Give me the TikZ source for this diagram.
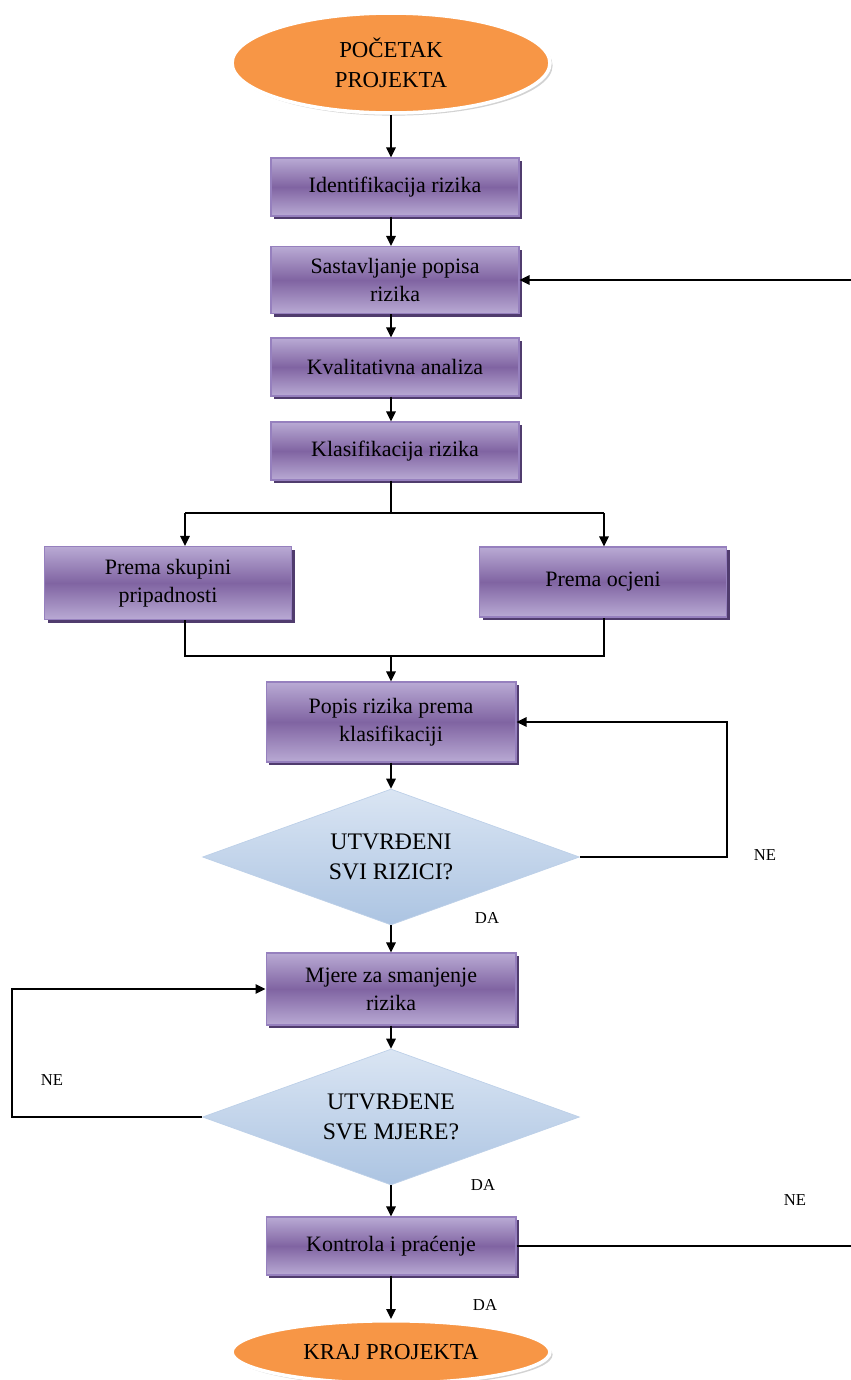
\documentclass[tikz,border=0pt]{standalone}
\usepackage{fontspec}
\setmainfont{Liberation Serif}
\usepackage{tikz}
\usetikzlibrary{positioning,arrows.meta,calc,shapes.geometric,shadows}
\definecolor{oranz}{RGB}{247,150,70}
\definecolor{ljtop}{RGB}{185,170,212}
\definecolor{ljmid}{RGB}{128,100,162}
\definecolor{ljbor}{RGB}{150,128,190}
\definecolor{ljsj}{RGB}{80,60,110}
\definecolor{plav}{RGB}{218,229,243}
\definecolor{plavd}{RGB}{172,196,226}

\begin{document}
\begin{tikzpicture}[x=0.02cm,y=-0.02cm,>={Triangle[length=2mm,width=1.9mm]},
  line width=0.85pt,
  ell/.style={ellipse,fill=oranz,draw=white,line width=2pt,minimum width=6.36cm,
    minimum height=2cm,align=center,font=\fontsize{13}{17}\selectfont,
    drop shadow={shadow xshift=1.5pt,shadow yshift=-1.5pt,fill=black!35}},
  proc/.style={draw=ljbor,line width=0.6pt,top color=ljtop,bottom color=ljtop,middle color=ljmid,
    minimum width=4.96cm,minimum height=1.16cm,align=center,inner sep=2pt,
    font=\fontsize{12.5}{16}\selectfont,
    drop shadow={shadow xshift=1.8pt,shadow yshift=-1.8pt,fill=ljsj,opacity=1}},
  dec/.style={diamond,aspect=2.8,inner sep=0pt,minimum width=7.54cm,minimum height=2.72cm,
    top color=plav,bottom color=plavd,draw=plavd!80!white,line width=0.4pt,align=center,
    font=\fontsize{13.5}{17}\selectfont},
  lbl/.style={font=\fontsize{9.5}{11}\selectfont}]
\useasboundingbox (0,0) rectangle (851,1380);
% top
\node[ell] (start) at (391,63) {POČETAK\\PROJEKTA};
\node[proc] (ident) at (395,187) {Identifikacija rizika};
\node[proc,minimum height=1.34cm] (popis) at (395,280) {Sastavljanje popisa\\rizika};
\node[proc] (kval) at (395,367) {Kvalitativna analiza};
\node[proc] (klas) at (395,451) {Klasifikacija rizika};
\draw[->] (start) -- (start |- ident.north);
\draw[->] (ident.south -| start) -- (start |- popis.north);
\draw[->] (popis.south -| start) -- (start |- kval.north);
\draw[->] (kval.south -| start) -- (start |- klas.north);
% split
\node[proc,minimum width=4.94cm,minimum height=1.46cm] (skup) at (168,583) {Prema skupini\\pripadnosti};
\node[proc,minimum width=4.94cm,minimum height=1.4cm] (ocj) at (603,582) {Prema ocjeni};
\coordinate (spl) at (391,513);
\coordinate (sl) at (185,513);
\coordinate (sr) at (604,513);
\coordinate (jn) at (391,656);
\draw (klas.south -| spl) -- (spl);
\draw (sl) -- (sr);
\draw[->] (sl) -- (sl |- skup.north);
\draw[->] (sr) -- (sr |- ocj.north);
\draw (sl |- skup.south) -- (sl |- jn) -- (sr |- jn) -- (sr |- ocj.south);
\node[proc,minimum width=5cm,minimum height=1.6cm] (popkl) at (391,722) {Popis rizika prema\\klasifikaciji};
\draw[->] (jn) -- (jn |- popkl.north);
% first check
\node[dec] (dec1) at (391,857) {UTVRĐENI\\SVI RIZICI?};
\coordinate (ne1) at (727,722);
\draw[->] (popkl) -- (dec1);
\draw[->] (dec1.east) -| (ne1) -- (popkl.east);
\node[lbl] (ne1l) at (765,855) {NE};
\node[lbl] (da1) at (487,918) {DA};
\node[proc,minimum width=5cm,minimum height=1.44cm] (mjere) at (391,989) {Mjere za smanjenje\\rizika};
\draw[->] (dec1) -- (mjere);
% second check
\node[dec] (dec2) at (391,1117) {UTVRĐENE\\SVE MJERE?};
\coordinate (ne2) at (12,989);
\draw[->] (mjere) -- (dec2);
\draw[->] (dec2.west) -| (ne2) -- (mjere.west);
\node[lbl] (ne2l) at (52,1080) {NE};
\node[lbl] (da2) at (483,1185) {DA};
\node[proc,minimum width=5cm] (kontr) at (391,1246) {Kontrola i praćenje};
\draw[->] (dec2) -- (kontr);
% back to the list
\coordinate (r1) at (851,280);
\coordinate (r2) at (851,1246);
\draw (kontr) -- (r2);
\draw[->] (r1) -- (popis);
\node[lbl] (ne3l) at (795,1200) {NE};
% end
\node[ell,minimum height=1.25cm] (kraj) at (391,1352) {KRAJ PROJEKTA};
\draw[->] (kontr) -- (kraj);
\node[lbl] (da3) at (485,1305) {DA};
\end{tikzpicture}
\end{document}
